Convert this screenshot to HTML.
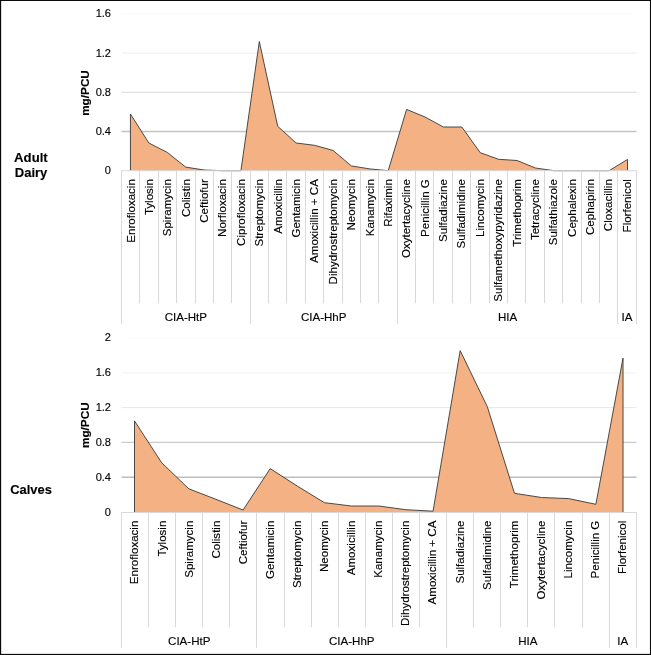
<!DOCTYPE html>
<html lang="en">
<head>
<meta charset="utf-8">
<title>Antimicrobial use in adult dairy cattle and calves (mg/PCU)</title>
<style>
html,body{margin:0;padding:0;background:#fff;}
body{width:651px;height:655px;overflow:hidden;}
#wrap{width:651px;height:655px;will-change:transform;transform:translateZ(0);}
svg{display:block;filter:opacity(1);font-family:'Liberation Sans', Arial, sans-serif;fill:#000;}
text{stroke:#000;stroke-width:0.14px;}
</style>
</head>
<body>
<div id="wrap">
<svg width="651" height="655" viewBox="0 0 651 655">
<rect x="0" y="0" width="651" height="655" fill="#ffffff"/>
<line x1="121.5" y1="13.9" x2="636.5" y2="13.9" stroke="#fbfbfb" stroke-width="1"/>
<line x1="121.5" y1="53.1" x2="636.5" y2="53.1" stroke="#eeeeee" stroke-width="1"/>
<line x1="121.5" y1="92.3" x2="636.5" y2="92.3" stroke="#d9d9d9" stroke-width="1.1"/>
<line x1="121.5" y1="131.5" x2="636.5" y2="131.5" stroke="#c2c2c2" stroke-width="1.35"/>
<path d="M130.45,170.7 L130.45,114.00 L148.86,143.00 L167.27,152.40 L185.68,167.10 L204.09,170.00 L222.50,170.70 L240.91,170.70 L259.32,41.50 L277.73,126.30 L296.14,143.00 L314.55,145.30 L332.96,150.40 L351.37,165.90 L369.78,168.90 L388.19,170.70 L406.60,109.40 L425.01,117.00 L443.42,127.00 L461.83,127.00 L480.24,152.70 L498.65,159.30 L517.06,160.50 L535.47,168.00 L553.88,170.70 L572.29,170.70 L590.70,170.70 L609.11,170.70 L627.52,159.40 L627.52,170.7 Z" fill="#F4B183"/>
<path d="M130.45,170.7 L130.45,114.00 L148.86,143.00 L167.27,152.40 L185.68,167.10 L204.09,170.00 L222.50,170.70 L240.91,170.70 L259.32,41.50 L277.73,126.30 L296.14,143.00 L314.55,145.30 L332.96,150.40 L351.37,165.90 L369.78,168.90 L388.19,170.70 L406.60,109.40 L425.01,117.00 L443.42,127.00 L461.83,127.00 L480.24,152.70 L498.65,159.30 L517.06,160.50 L535.47,168.00 L553.88,170.70 L572.29,170.70 L590.70,170.70 L609.11,170.70 L627.52,159.40 L627.52,170.7" fill="none" stroke="#383838" stroke-width="0.9" stroke-linejoin="miter"/>
<line x1="121.5" y1="170.7" x2="636.5" y2="170.7" stroke="#d9d9d9" stroke-width="1"/>
<line x1="121.50" y1="170.7" x2="121.50" y2="324" stroke="#d9d9d9" stroke-width="1"/>
<line x1="139.50" y1="170.7" x2="139.50" y2="303.2" stroke="#d9d9d9" stroke-width="1"/>
<line x1="158.50" y1="170.7" x2="158.50" y2="303.2" stroke="#d9d9d9" stroke-width="1"/>
<line x1="176.50" y1="170.7" x2="176.50" y2="303.2" stroke="#d9d9d9" stroke-width="1"/>
<line x1="195.50" y1="170.7" x2="195.50" y2="303.2" stroke="#d9d9d9" stroke-width="1"/>
<line x1="213.50" y1="170.7" x2="213.50" y2="303.2" stroke="#d9d9d9" stroke-width="1"/>
<line x1="231.50" y1="170.7" x2="231.50" y2="303.2" stroke="#d9d9d9" stroke-width="1"/>
<line x1="250.50" y1="170.7" x2="250.50" y2="324" stroke="#d9d9d9" stroke-width="1"/>
<line x1="268.50" y1="170.7" x2="268.50" y2="303.2" stroke="#d9d9d9" stroke-width="1"/>
<line x1="286.50" y1="170.7" x2="286.50" y2="303.2" stroke="#d9d9d9" stroke-width="1"/>
<line x1="305.50" y1="170.7" x2="305.50" y2="303.2" stroke="#d9d9d9" stroke-width="1"/>
<line x1="323.50" y1="170.7" x2="323.50" y2="303.2" stroke="#d9d9d9" stroke-width="1"/>
<line x1="342.50" y1="170.7" x2="342.50" y2="303.2" stroke="#d9d9d9" stroke-width="1"/>
<line x1="360.50" y1="170.7" x2="360.50" y2="303.2" stroke="#d9d9d9" stroke-width="1"/>
<line x1="378.50" y1="170.7" x2="378.50" y2="303.2" stroke="#d9d9d9" stroke-width="1"/>
<line x1="397.50" y1="170.7" x2="397.50" y2="324" stroke="#d9d9d9" stroke-width="1"/>
<line x1="415.50" y1="170.7" x2="415.50" y2="303.2" stroke="#d9d9d9" stroke-width="1"/>
<line x1="433.50" y1="170.7" x2="433.50" y2="303.2" stroke="#d9d9d9" stroke-width="1"/>
<line x1="452.50" y1="170.7" x2="452.50" y2="303.2" stroke="#d9d9d9" stroke-width="1"/>
<line x1="470.50" y1="170.7" x2="470.50" y2="303.2" stroke="#d9d9d9" stroke-width="1"/>
<line x1="489.50" y1="170.7" x2="489.50" y2="303.2" stroke="#d9d9d9" stroke-width="1"/>
<line x1="507.50" y1="170.7" x2="507.50" y2="303.2" stroke="#d9d9d9" stroke-width="1"/>
<line x1="525.50" y1="170.7" x2="525.50" y2="303.2" stroke="#d9d9d9" stroke-width="1"/>
<line x1="544.50" y1="170.7" x2="544.50" y2="303.2" stroke="#d9d9d9" stroke-width="1"/>
<line x1="562.50" y1="170.7" x2="562.50" y2="303.2" stroke="#d9d9d9" stroke-width="1"/>
<line x1="581.50" y1="170.7" x2="581.50" y2="303.2" stroke="#d9d9d9" stroke-width="1"/>
<line x1="599.50" y1="170.7" x2="599.50" y2="303.2" stroke="#d9d9d9" stroke-width="1"/>
<line x1="617.50" y1="170.7" x2="617.50" y2="324" stroke="#d9d9d9" stroke-width="1"/>
<line x1="636.50" y1="170.7" x2="636.50" y2="324" stroke="#d9d9d9" stroke-width="1"/>
<text transform="translate(134.54,179.15) rotate(-90)" text-anchor="end" font-size="11.55">Enrofloxacin</text>
<text transform="translate(152.92,179.15) rotate(-90)" text-anchor="end" font-size="11.55">Tylosin</text>
<text transform="translate(171.31,179.15) rotate(-90)" text-anchor="end" font-size="11.55">Spiramycin</text>
<text transform="translate(189.69,179.15) rotate(-90)" text-anchor="end" font-size="11.55">Colistin</text>
<text transform="translate(208.07,179.15) rotate(-90)" text-anchor="end" font-size="11.55">Ceftiofur</text>
<text transform="translate(226.45,179.15) rotate(-90)" text-anchor="end" font-size="11.55">Norfloxacin</text>
<text transform="translate(244.83,179.15) rotate(-90)" text-anchor="end" font-size="11.55">Ciprofloxacin</text>
<text transform="translate(263.22,179.15) rotate(-90)" text-anchor="end" font-size="11.55">Streptomycin</text>
<text transform="translate(281.60,179.15) rotate(-90)" text-anchor="end" font-size="11.55">Amoxicillin</text>
<text transform="translate(299.98,179.15) rotate(-90)" text-anchor="end" font-size="11.55">Gentamicin</text>
<text transform="translate(318.36,179.15) rotate(-90)" text-anchor="end" font-size="11.55">Amoxicillin + CA</text>
<text transform="translate(336.74,179.15) rotate(-90)" text-anchor="end" font-size="11.55">Dihydrostreptomycin</text>
<text transform="translate(355.13,179.15) rotate(-90)" text-anchor="end" font-size="11.55">Neomycin</text>
<text transform="translate(373.51,179.15) rotate(-90)" text-anchor="end" font-size="11.55">Kanamycin</text>
<text transform="translate(391.89,179.15) rotate(-90)" text-anchor="end" font-size="11.55">Rifaximin</text>
<text transform="translate(410.27,179.15) rotate(-90)" text-anchor="end" font-size="11.55">Oxytertacycline</text>
<text transform="translate(428.66,179.15) rotate(-90)" text-anchor="end" font-size="11.55">Penicillin G</text>
<text transform="translate(447.04,179.15) rotate(-90)" text-anchor="end" font-size="11.55">Sulfadiazine</text>
<text transform="translate(465.42,179.15) rotate(-90)" text-anchor="end" font-size="11.55">Sulfadimidine</text>
<text transform="translate(483.80,179.15) rotate(-90)" text-anchor="end" font-size="11.55">Lincomycin</text>
<text transform="translate(502.18,179.15) rotate(-90)" text-anchor="end" font-size="11.55">Sulfamethoxypyridazine</text>
<text transform="translate(520.57,179.15) rotate(-90)" text-anchor="end" font-size="11.55">Trimethoprim</text>
<text transform="translate(538.95,179.15) rotate(-90)" text-anchor="end" font-size="11.55">Tetracycline</text>
<text transform="translate(557.33,179.15) rotate(-90)" text-anchor="end" font-size="11.55">Sulfathiazole</text>
<text transform="translate(575.71,179.15) rotate(-90)" text-anchor="end" font-size="11.55">Cephalexin</text>
<text transform="translate(594.09,179.15) rotate(-90)" text-anchor="end" font-size="11.55">Cephapirin</text>
<text transform="translate(612.48,179.15) rotate(-90)" text-anchor="end" font-size="11.55">Cloxacillin</text>
<text transform="translate(630.86,179.15) rotate(-90)" text-anchor="end" font-size="11.55">Florfenicol</text>
<text x="185.84" y="320.8" text-anchor="middle" font-size="11.55">CIA-HtP</text>
<text x="323.70" y="320.8" text-anchor="middle" font-size="11.55">CIA-HhP</text>
<text x="507.53" y="320.8" text-anchor="middle" font-size="11.55">HIA</text>
<text x="627.01" y="320.8" text-anchor="middle" font-size="11.55">IA</text>
<text x="111.0" y="17.35" text-anchor="end" font-size="11.05">1.6</text>
<text x="111.0" y="56.55" text-anchor="end" font-size="11.05">1.2</text>
<text x="111.0" y="95.75" text-anchor="end" font-size="11.05">0.8</text>
<text x="111.0" y="134.95" text-anchor="end" font-size="11.05">0.4</text>
<text x="111.0" y="174.15" text-anchor="end" font-size="11.05">0</text>
<text transform="translate(88.8,93) rotate(-90)" text-anchor="middle" font-size="11.75" font-weight="bold">mg/PCU</text>
<line x1="121.5" y1="338.0" x2="636.5" y2="338.0" stroke="#fcfcfc" stroke-width="1"/>
<line x1="121.5" y1="372.9" x2="636.5" y2="372.9" stroke="#f4f4f4" stroke-width="1.2"/>
<line x1="121.5" y1="407.6" x2="636.5" y2="407.6" stroke="#e7e7e7" stroke-width="1"/>
<line x1="121.5" y1="442.4" x2="636.5" y2="442.4" stroke="#cbcbcb" stroke-width="1.1"/>
<line x1="121.5" y1="477.2" x2="636.5" y2="477.2" stroke="#bebebe" stroke-width="1.4"/>
<path d="M134.50,512.5 L134.50,420.90 L161.64,462.70 L188.78,488.80 L215.92,499.30 L243.06,510.00 L270.20,468.60 L297.34,486.10 L324.48,502.70 L351.62,506.00 L378.76,506.00 L405.90,509.70 L433.04,511.20 L460.18,350.60 L487.32,406.70 L514.46,493.30 L541.60,497.50 L568.74,498.60 L595.88,504.30 L623.02,358.10 L623.02,512.5 Z" fill="#F4B183"/>
<path d="M134.50,512.5 L134.50,420.90 L161.64,462.70 L188.78,488.80 L215.92,499.30 L243.06,510.00 L270.20,468.60 L297.34,486.10 L324.48,502.70 L351.62,506.00 L378.76,506.00 L405.90,509.70 L433.04,511.20 L460.18,350.60 L487.32,406.70 L514.46,493.30 L541.60,497.50 L568.74,498.60 L595.88,504.30 L623.02,358.10 L623.02,512.5" fill="none" stroke="#383838" stroke-width="0.9" stroke-linejoin="miter"/>
<line x1="121.5" y1="512.5" x2="636.5" y2="512.5" stroke="#d9d9d9" stroke-width="1"/>
<line x1="121.50" y1="512.5" x2="121.50" y2="647.8" stroke="#d9d9d9" stroke-width="1"/>
<line x1="148.50" y1="512.5" x2="148.50" y2="627.2" stroke="#d9d9d9" stroke-width="1"/>
<line x1="175.50" y1="512.5" x2="175.50" y2="627.2" stroke="#d9d9d9" stroke-width="1"/>
<line x1="202.50" y1="512.5" x2="202.50" y2="627.2" stroke="#d9d9d9" stroke-width="1"/>
<line x1="229.50" y1="512.5" x2="229.50" y2="627.2" stroke="#d9d9d9" stroke-width="1"/>
<line x1="256.50" y1="512.5" x2="256.50" y2="647.8" stroke="#d9d9d9" stroke-width="1"/>
<line x1="284.50" y1="512.5" x2="284.50" y2="627.2" stroke="#d9d9d9" stroke-width="1"/>
<line x1="311.50" y1="512.5" x2="311.50" y2="627.2" stroke="#d9d9d9" stroke-width="1"/>
<line x1="338.50" y1="512.5" x2="338.50" y2="627.2" stroke="#d9d9d9" stroke-width="1"/>
<line x1="365.50" y1="512.5" x2="365.50" y2="627.2" stroke="#d9d9d9" stroke-width="1"/>
<line x1="392.50" y1="512.5" x2="392.50" y2="627.2" stroke="#d9d9d9" stroke-width="1"/>
<line x1="419.50" y1="512.5" x2="419.50" y2="627.2" stroke="#d9d9d9" stroke-width="1"/>
<line x1="446.50" y1="512.5" x2="446.50" y2="647.8" stroke="#d9d9d9" stroke-width="1"/>
<line x1="473.50" y1="512.5" x2="473.50" y2="627.2" stroke="#d9d9d9" stroke-width="1"/>
<line x1="500.50" y1="512.5" x2="500.50" y2="627.2" stroke="#d9d9d9" stroke-width="1"/>
<line x1="527.50" y1="512.5" x2="527.50" y2="627.2" stroke="#d9d9d9" stroke-width="1"/>
<line x1="554.50" y1="512.5" x2="554.50" y2="627.2" stroke="#d9d9d9" stroke-width="1"/>
<line x1="582.50" y1="512.5" x2="582.50" y2="627.2" stroke="#d9d9d9" stroke-width="1"/>
<line x1="609.50" y1="512.5" x2="609.50" y2="647.8" stroke="#d9d9d9" stroke-width="1"/>
<line x1="636.50" y1="512.5" x2="636.50" y2="647.8" stroke="#d9d9d9" stroke-width="1"/>
<text transform="translate(138.49,520.65) rotate(-90)" text-anchor="end" font-size="11.55">Enrofloxacin</text>
<text transform="translate(165.58,520.65) rotate(-90)" text-anchor="end" font-size="11.55">Tylosin</text>
<text transform="translate(192.67,520.65) rotate(-90)" text-anchor="end" font-size="11.55">Spiramycin</text>
<text transform="translate(219.76,520.65) rotate(-90)" text-anchor="end" font-size="11.55">Colistin</text>
<text transform="translate(246.85,520.65) rotate(-90)" text-anchor="end" font-size="11.55">Ceftiofur</text>
<text transform="translate(273.94,520.65) rotate(-90)" text-anchor="end" font-size="11.55">Gentamicin</text>
<text transform="translate(301.03,520.65) rotate(-90)" text-anchor="end" font-size="11.55">Streptomycin</text>
<text transform="translate(328.12,520.65) rotate(-90)" text-anchor="end" font-size="11.55">Neomycin</text>
<text transform="translate(355.21,520.65) rotate(-90)" text-anchor="end" font-size="11.55">Amoxicillin</text>
<text transform="translate(382.30,520.65) rotate(-90)" text-anchor="end" font-size="11.55">Kanamycin</text>
<text transform="translate(409.39,520.65) rotate(-90)" text-anchor="end" font-size="11.55">Dihydrostreptomycin</text>
<text transform="translate(436.48,520.65) rotate(-90)" text-anchor="end" font-size="11.55">Amoxicillin + CA</text>
<text transform="translate(463.57,520.65) rotate(-90)" text-anchor="end" font-size="11.55">Sulfadiazine</text>
<text transform="translate(490.66,520.65) rotate(-90)" text-anchor="end" font-size="11.55">Sulfadimidine</text>
<text transform="translate(517.75,520.65) rotate(-90)" text-anchor="end" font-size="11.55">Trimethoprim</text>
<text transform="translate(544.84,520.65) rotate(-90)" text-anchor="end" font-size="11.55">Oxytertacycline</text>
<text transform="translate(571.93,520.65) rotate(-90)" text-anchor="end" font-size="11.55">Lincomycin</text>
<text transform="translate(599.02,520.65) rotate(-90)" text-anchor="end" font-size="11.55">Penicillin G</text>
<text transform="translate(626.11,520.65) rotate(-90)" text-anchor="end" font-size="11.55">Florfenicol</text>
<text x="189.22" y="644.9" text-anchor="middle" font-size="11.55">CIA-HtP</text>
<text x="351.76" y="644.9" text-anchor="middle" font-size="11.55">CIA-HhP</text>
<text x="527.84" y="644.9" text-anchor="middle" font-size="11.55">HIA</text>
<text x="622.66" y="644.9" text-anchor="middle" font-size="11.55">IA</text>
<text x="111.0" y="341.45" text-anchor="end" font-size="11.05">2</text>
<text x="111.0" y="376.35" text-anchor="end" font-size="11.05">1.6</text>
<text x="111.0" y="411.25" text-anchor="end" font-size="11.05">1.2</text>
<text x="111.0" y="446.15" text-anchor="end" font-size="11.05">0.8</text>
<text x="111.0" y="481.05" text-anchor="end" font-size="11.05">0.4</text>
<text x="111.0" y="515.95" text-anchor="end" font-size="11.05">0</text>
<text transform="translate(88.8,425.2) rotate(-90)" text-anchor="middle" font-size="11.75" font-weight="bold">mg/PCU</text>
<text x="30.9" y="162.2" text-anchor="middle" font-size="13.15" font-weight="bold">Adult</text>
<text x="31.1" y="177.45" text-anchor="middle" font-size="13.0" font-weight="bold">Dairy</text>
<text x="31.1" y="493.8" text-anchor="middle" font-size="12.9" font-weight="bold">Calves</text>
<rect x="0" y="0" width="651" height="1" fill="#0a0a0a"/>
<rect x="0" y="0" width="1.15" height="655" fill="#0a0a0a"/>
<rect x="649.95" y="0" width="1.05" height="655" fill="#0a0a0a"/>
<rect x="0" y="653.88" width="651" height="1.12" fill="#0a0a0a"/>
</svg>
</div>
</body>
</html>
